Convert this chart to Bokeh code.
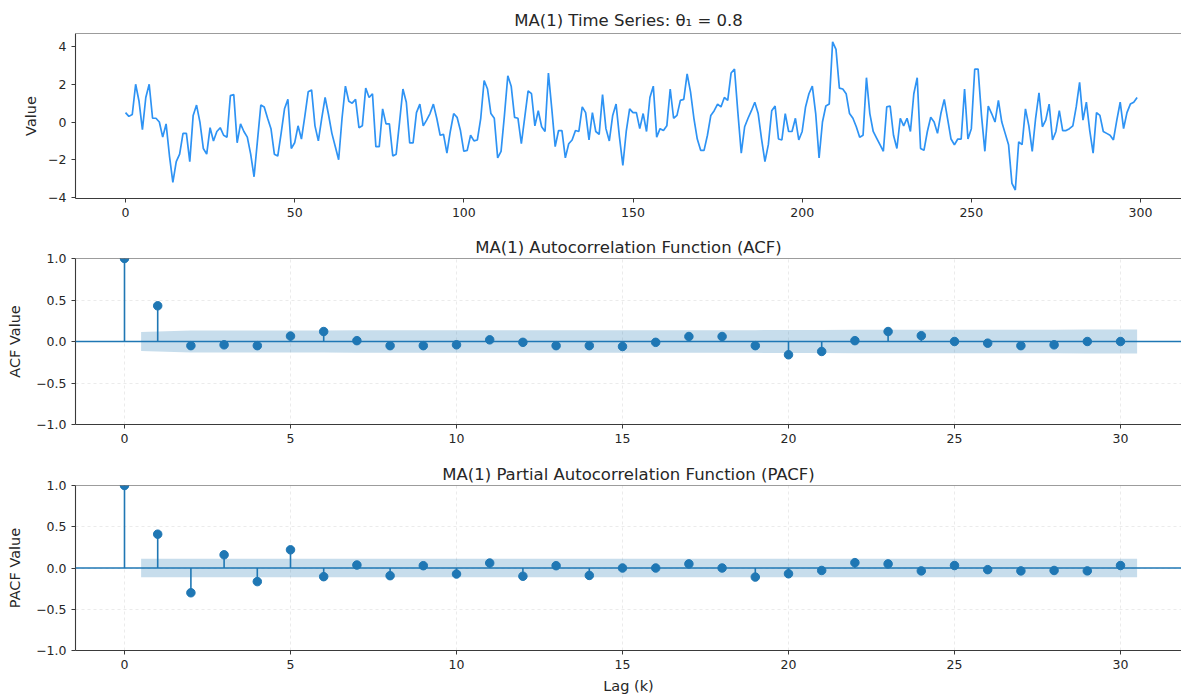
from bokeh.plotting import figure
from bokeh.layouts import column
from bokeh.models import FixedTicker, Range1d, Span, CustomJSTickFormatter
from bokeh.embed import file_html
from bokeh.resources import INLINE

# simulated MA(1) series, 300 observations
series = [
    0.5, 0.3, 0.4, 2.0, 1.1, -0.4, 1.3, 2.0, 0.2, 0.2,
    0.0, -0.8, -0.1, -1.8, -3.2, -2.1, -1.7, -0.6, -0.6, -2.1,
    0.35, 0.9, 0.0, -1.4, -1.7, -0.3, -1.0, -0.5, -0.3, -0.7,
    -0.8, 1.4, 1.45, -1.1, -0.1, -0.5, -0.8, -1.7, -2.9, -1.0,
    0.9, 0.8, 0.2, -0.35, -1.7, -1.8, -0.6, 0.7, 1.2, -1.4,
    -1.1, -0.2, -0.9, 0.3, 1.6, 1.7, -0.2, -1.0, 0.2, 1.3,
    0.4, -0.6, -1.3, -2.0, 0.2, 1.9, 1.1, 1.0, 1.2, -0.3,
    -0.2, 1.8, 1.3, 1.5, -1.3, -1.3, 0.7, -0.1, -0.1, -1.8,
    -1.7, 0.0, 1.75, 1.05, -1.1, -1.1, 0.5, 0.95, -0.2, 0.1,
    0.45, 0.95, 0.2, -0.7, -0.65, -1.65, -0.5, 0.45, 0.25, -0.45,
    -1.55, -1.5, -0.7, -1.0, -0.95, 0.2, 2.2, 1.75, 0.45, 0.2,
    -1.9, -1.55, 0.35, 2.45, 1.9, 0.25, 0.2, -1.15, 0.25, 1.65,
    1.5, -0.2, 0.6, -0.25, -0.5, 2.6, 0.7, -1.3, -0.45, -0.45,
    -1.9, -1.15, -0.95, -0.45, -0.5, 0.8, 0.5, -0.95, 0.5, -0.5,
    -0.65, 1.45, -0.35, -1.0, 0.35, 0.95, -0.8, -2.3, -0.5, 0.7,
    0.5, 0.5, -0.35, 0.45, -0.5, 1.3, 1.9, -0.8, -0.35, -0.45,
    -0.2, 1.75, 0.2, 0.35, 1.15, 1.2, 2.55, 1.6, 0.2, -0.9,
    -1.5, -1.5, -0.7, 0.35, 0.6, 0.95, 0.8, 1.3, 1.15, 2.6,
    2.8, 0.5, -1.65, -0.25, 0.2, 0.6, 1.05, 0.45, -0.9, -2.1,
    -1.2, 0.6, 0.85, -0.9, -0.95, 0.45, -0.5, -0.5, 0.2, -0.95,
    -0.5, 0.8, 1.5, 1.9, 0.45, -1.9, 0.0, 0.85, 0.95, 4.25,
    3.85, 1.8, 1.75, 1.5, 0.45, 0.2, -0.25, -0.8, -0.7, 2.35,
    0.45, -0.5, -0.85, -1.2, -1.55, 0.8, 0.85, -0.7, -1.4, 0.2,
    -0.2, 0.2, -0.5, 1.5, 2.35, -1.4, -1.5, -0.5, 0.25, 0.0,
    -0.6, 0.45, 1.2, 0.15, -0.9, -1.2, -0.9, -0.9, 1.75, -0.9,
    -0.35, 2.8, 2.8, 0.35, -1.55, 0.85, 0.45, 0.0, 1.15, 0.0,
    -0.6, -1.2, -3.25, -3.6, -1.05, -1.2, 0.7, -0.2, -1.55, 0.2,
    1.55, -0.25, 0.1, 0.95, -0.95, -0.5, 0.6, -0.45, -0.45, -0.35,
    -0.2, 0.8, 2.1, 0.1, 1.05, -0.45, -1.65, 0.5, 0.35, -0.5,
    -0.6, -0.7, -0.95, 0.1, 1.05, -0.35, 0.5, 0.95, 1.05, 1.3,
]
time_index = list(range(len(series)))

# sample autocorrelations, lags 0..30
acf_values = [
    1.0, 0.43, -0.05, -0.04, -0.05, 0.065, 0.12, 0.01, -0.05, -0.05,
    -0.04, 0.02, -0.01, -0.05, -0.05, -0.06, -0.01, 0.06, 0.06, -0.05,
    -0.16, -0.12, 0.01, 0.12, 0.07, 0.0, -0.02, -0.05, -0.04, 0.0, 0.0,
]
# sample partial autocorrelations, lags 0..30
pacf_values = [
    1.0, 0.41, -0.30, 0.16, -0.165, 0.22, -0.105, 0.036, -0.093, 0.028,
    -0.073, 0.06, -0.10, 0.028, -0.09, 0.0, 0.0, 0.05, 0.0, -0.11,
    -0.07, -0.03, 0.065, 0.05, -0.035, 0.03, -0.02, -0.035, -0.03, -0.035, 0.03,
]
lags = list(range(len(acf_values)))

time_ticks = [0, 50, 100, 150, 200, 250, 300]
value_ticks = [-4, -2, 0, 2, 4]
lag_ticks = [0, 5, 10, 15, 20, 25, 30]
corr_ticks = [-1.0, -0.5, 0.0, 0.5, 1.0]

FONT = "DejaVu Sans"
TXT = "#262626"
SPINE = "#3a3a3a"
C0 = "#1f77b4"
LINE_BLUE = "#2e93f4"
WIDTH = 1181

n_obs = len(series)
z95 = 1.96

# 95% bands: Bartlett for the ACF, 1/sqrt(n) for the PACF
acf_half = []
cum = 0.0
for k in range(1, len(acf_values)):
    acf_half.append(z95 * ((1 + 2 * cum) / n_obs) ** 0.5)
    cum += acf_values[k] ** 2
pacf_half = [z95 / n_obs ** 0.5] * (len(pacf_values) - 1)
band_x = [float(k) for k in lags[1:]]
band_x[0] -= 0.5
band_x[-1] += 0.5


def minus_formatter(decimals):
    return CustomJSTickFormatter(code=f"""
        const s = Math.abs(tick).toFixed({decimals});
        return (tick < -1e-9 ? '\\u2212' : '') + s;
    """)


def style(p, xticks, yticks, ydec, grid):
    p.outline_line_color = None
    p.background_fill_color = "white"
    p.border_fill_color = "white"
    p.title.align = "center"
    p.title.text_font = FONT
    p.title.text_font_style = "normal"
    p.title.text_font_size = "16.5px"
    p.title.text_color = TXT
    p.title.standoff = 4
    for ax in (p.xaxis[0], p.yaxis[0]):
        ax.axis_line_color = SPINE
        ax.axis_line_width = 1.1
        ax.major_tick_line_color = SPINE
        ax.major_tick_out = 4
        ax.major_tick_in = 0
        ax.minor_tick_line_color = None
        ax.major_label_text_font = FONT
        ax.major_label_text_font_size = "12.5px"
        ax.major_label_text_color = TXT
        ax.axis_label_text_font = FONT
        ax.axis_label_text_font_style = "normal"
        ax.axis_label_text_font_size = "14.5px"
        ax.axis_label_text_color = TXT
        ax.major_label_standoff = 5
    p.xaxis[0].ticker = FixedTicker(ticks=xticks)
    p.yaxis[0].ticker = FixedTicker(ticks=yticks)
    p.yaxis[0].formatter = minus_formatter(ydec)
    if grid:
        p.grid.grid_line_color = "#cccccc"
        p.grid.grid_line_alpha = 0.5
        p.grid.grid_line_dash = "3 3"
        p.grid.grid_line_width = 0.8
    else:
        p.grid.grid_line_color = None
    # top spine
    p.add_layout(Span(location=p.y_range.end, dimension="width",
                      line_color=SPINE, line_width=1.1))


# --- time series panel ---
px_per_t = (1140 - 125) / 300.0
frame_left = 75
p1 = figure(width=WIDTH, height=233, output_backend="svg", toolbar_location=None,
            title="MA(1) Time Series: θ₁ = 0.8",
            x_range=Range1d((frame_left - 125) / px_per_t, (WIDTH - 125) / px_per_t),
            y_range=Range1d(-4.05, 4.69),
            min_border_left=frame_left, min_border_right=0,
            min_border_top=33, min_border_bottom=35)
p1.line(time_index, series, line_color=LINE_BLUE, line_width=1.7)
style(p1, time_ticks, value_ticks, 0, grid=False)
p1.title.standoff = 7
p1.yaxis[0].axis_label = "Value"
p1.yaxis[0].axis_label_standoff = 6


def corr_panel(title, values, half, ylabel, height, top, bottom, xlabel=None):
    px_per_lag = (1120 - 124) / 30.0
    p = figure(width=WIDTH, height=height, output_backend="svg", toolbar_location=None,
               title=title,
               x_range=Range1d((frame_left - 124) / px_per_lag, (WIDTH - 124) / px_per_lag),
               y_range=Range1d(-1.0, 1.0),
               min_border_left=frame_left, min_border_right=0,
               min_border_top=top, min_border_bottom=bottom)
    style(p, lag_ticks, corr_ticks, 1, grid=True)
    lower = [-h for h in half]
    p.varea(x=band_x, y1=lower, y2=half, fill_color=C0, fill_alpha=0.25)
    p.add_layout(Span(location=0, dimension="width", line_color=C0, line_width=1.5))
    p.segment(x0=lags, y0=[0] * len(values), x1=lags, y1=values,
              line_color=C0, line_width=1.6)
    p.scatter(lags, values, size=8.5, marker="circle", fill_color=C0, line_color=C0)
    p.yaxis[0].axis_label = ylabel
    p.yaxis[0].axis_label_standoff = 10
    if xlabel:
        p.xaxis[0].axis_label = xlabel
        p.xaxis[0].axis_label_standoff = 6
    return p


p2 = corr_panel("MA(1) Autocorrelation Function (ACF)", acf_values, acf_half,
                "ACF Value", height=227, top=25, bottom=36)
p3 = corr_panel("MA(1) Partial Autocorrelation Function (PACF)", pacf_values, pacf_half,
                "PACF Value", height=237, top=25, bottom=47, xlabel="Lag (k)")

layout = column(p1, p2, p3, spacing=0)
open("out.html", "w").write(file_html(layout, INLINE))
